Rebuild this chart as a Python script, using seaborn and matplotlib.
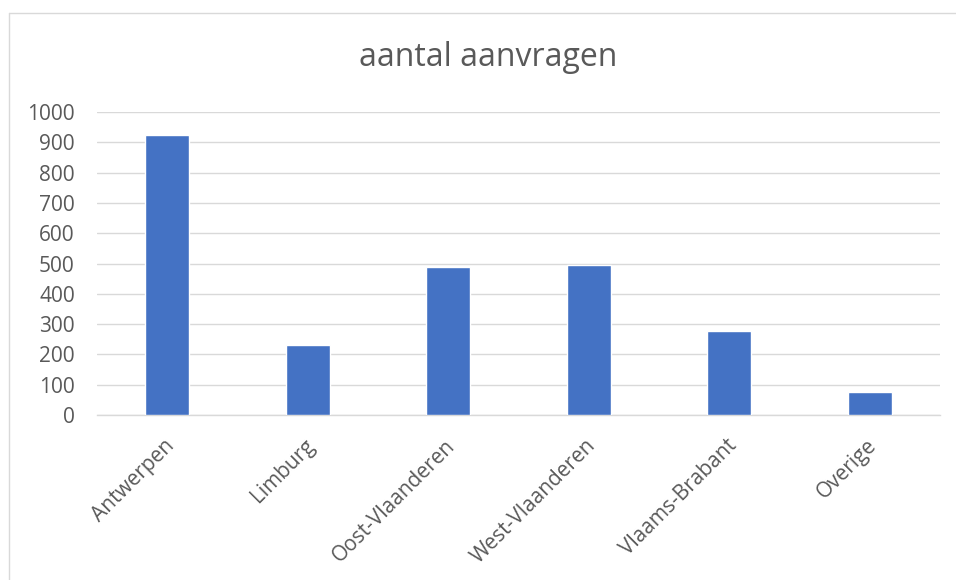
import matplotlib
matplotlib.use("Agg")
import matplotlib.pyplot as plt
import matplotlib.transforms as mtransforms
import seaborn as sns
import pandas as pd
from matplotlib.lines import Line2D

provinces = ["Antwerpen", "Limburg", "Oost-Vlaanderen", "West-Vlaanderen", "Vlaams-Brabant", "Overige"]
aanvragen = [923, 230, 489, 494, 277, 76]
y_ticks = [0, 100, 200, 300, 400, 500, 600, 700, 800, 900, 1000]

df = pd.DataFrame({"provincie": provinces, "aantal": aanvragen})

sns.set_style("white")
plt.rcParams["font.family"] = ["Open Sans", "DejaVu Sans"]

text_col = "#595959"
grid_col = "#D9D9D9"

fig = plt.figure(figsize=(9.56, 5.8), dpi=100)
ax = fig.add_axes([97/956, 1 - 415/580, (940 - 97)/956, (415 - 112)/580])

sns.barplot(data=df, x="provincie", y="aantal", color="#4472C4", width=0.31,
            saturation=1, ax=ax, zorder=3)

ax.set_ylim(0, 1000)
ax.set_xlim(-0.5, len(provinces) - 0.5)
ax.set_yticks(y_ticks)
ax.set_yticklabels([str(t) for t in y_ticks])
ax.yaxis.grid(True, color=grid_col, linewidth=1.0, zorder=0)
ax.set_axisbelow(True)
for s in ["top", "right", "left"]:
    ax.spines[s].set_visible(False)
ax.spines["bottom"].set_color(grid_col)
ax.spines["bottom"].set_linewidth(1.0)
ax.tick_params(axis="both", length=0, colors=text_col, labelsize=15)
ax.tick_params(axis="y", pad=16)
ax.tick_params(axis="x", pad=20)
# nudge rotated labels a little to the right
shift = mtransforms.ScaledTranslation(4/100, 0, fig.dpi_scale_trans)
for lbl in ax.get_xticklabels():
    lbl.set_rotation(45)
    lbl.set_ha("right")
    lbl.set_va("center")
    lbl.set_rotation_mode("anchor")
    lbl.set_transform(lbl.get_transform() + shift)
ax.set_xlabel("")
ax.set_ylabel("")

fig.text(488/956, 1 - 57/580, "aantal aanvragen", ha="center", va="center",
         fontsize=23, color=text_col)

# chart frame (only top and left visible)
fig.add_artist(Line2D([9/956, 1], [1 - 13/580, 1 - 13/580], color=grid_col, linewidth=1.0))
fig.add_artist(Line2D([9/956, 9/956], [0, 1 - 13/580], color=grid_col, linewidth=1.0))

fig.savefig("out.png", dpi=100)
